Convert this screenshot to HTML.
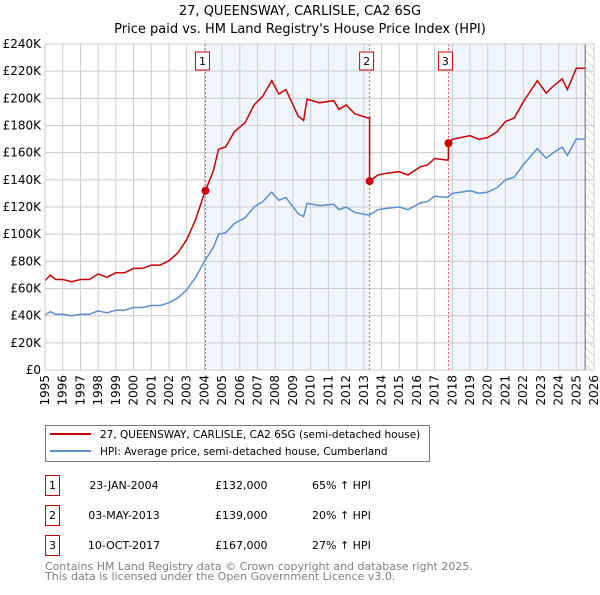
<!DOCTYPE html>
<html><head><meta charset="utf-8"><style>
body{margin:0;background:#fff;font-family:"Liberation Sans","DejaVu Sans",sans-serif;}
svg text{font-family:"DejaVu Sans","Liberation Sans",sans-serif;}
</style></head><body>
<svg id="c" width="600" height="590" xmlns="http://www.w3.org/2000/svg">
<defs><pattern id="hatch" width="6" height="6" patternUnits="userSpaceOnUse" patternTransform="rotate(-45)"><line x1="0" y1="0" x2="0" y2="6" stroke="#bbb" stroke-width="1"/></pattern></defs>
<text x="300" y="15" text-anchor="middle" font-size="13">27, QUEENSWAY, CARLISLE, CA2 6SG</text>
<text x="300" y="33" text-anchor="middle" font-size="13">Price paid vs. HM Land Registry's House Price Index (HPI)</text>
<g id="plot"></g>
<g>
<rect x="45.5" y="425.5" width="384" height="36" fill="#fff" stroke="#777"/>
<line x1="50" y1="434" x2="91" y2="434" stroke="#cc0000" stroke-width="2"/>
<text x="100" y="438" font-size="10.5">27, QUEENSWAY, CARLISLE, CA2 6SG (semi-detached house)</text>
<line x1="50" y1="451" x2="91" y2="451" stroke="#5b8fd0" stroke-width="2"/>
<text x="100" y="455" font-size="10.5">HPI: Average price, semi-detached house, Cumberland</text>
</g>
<g id="table" font-size="11"></g>
<text x="45" y="570" font-size="11" fill="#808080">Contains HM Land Registry data © Crown copyright and database right 2025.</text>
<text x="45" y="580" font-size="11" fill="#808080">This data is licensed under the Open Government Licence v3.0.</text>
</svg>
<script>
const hpiYears=[1995.0,1995.3,1995.6,1996.0,1996.5,1997.0,1997.5,1998.0,1998.5,1999.0,1999.5,2000.0,2000.5,2001.0,2001.5,2002.0,2002.5,2003.0,2003.5,2004.0,2004.5,2004.8,2005.2,2005.7,2006.3,2006.8,2007.3,2007.8,2008.2,2008.6,2009.3,2009.6,2009.8,2010.5,2011.3,2011.6,2012.0,2012.5,2013.3,2013.8,2014.3,2015.0,2015.5,2016.2,2016.6,2017.0,2017.7,2018.0,2018.5,2019.0,2019.5,2020.0,2020.5,2021.0,2021.5,2022.0,2022.8,2023.3,2023.7,2024.2,2024.5,2025.0,2025.5];
const hpiValues=[40.5,43,41,41,40,41,41,43.5,42,44,44,46,46,47.5,47.5,49.5,53,59,68,80,90,100,101,108,112,120,124,131,125,127,115,113,122.7,121,122,118,120,116,114,118,119,120,118,123,124,128,127,130,131,132,130,131,134,140,142,151,163,156,160,164,158,170,170];
const saleIds=["1","2","3"];
const saleYears=[2004.06,2013.33,2017.78];
const salePrices=[132,139,167];
const saleDates=["23-JAN-2004","03-MAY-2013","10-OCT-2017"];
const salePriceLabels=["£132,000","£139,000","£167,000"];
const salePct=["65% ↑ HPI","20% ↑ HPI","27% ↑ HPI"];
const yTicks=[0,20,40,60,80,100,120,140,160,180,200,220,240];
const yTickLabels=["£0","£20K","£40K","£60K","£80K","£100K","£120K","£140K","£160K","£180K","£200K","£220K","£240K"];
const xTicks=[1995,1996,1997,1998,1999,2000,2001,2002,2003,2004,2005,2006,2007,2008,2009,2010,2011,2012,2013,2014,2015,2016,2017,2018,2019,2020,2021,2022,2023,2024,2025,2026];
const dataEnd=2025.5;

const L=45,R=594,T=44,B=370;
const xS=y=>L+(y-1995)/(2026-1995)*(R-L);
const yS=v=>B-v/240*(B-T);
const NS="http://www.w3.org/2000/svg";
const plot=document.getElementById('plot');
function mk(tag,attrs,parent){const e=document.createElementNS(NS,tag);for(const k in attrs)e.setAttribute(k,attrs[k]);(parent||plot).appendChild(e);return e;}
function hpiAt(t){for(let i=1;i<hpiYears.length;i++){if(t<=hpiYears[i]){const f=(t-hpiYears[i-1])/(hpiYears[i]-hpiYears[i-1]);return hpiValues[i-1]+f*(hpiValues[i]-hpiValues[i-1]);}}return hpiValues[hpiValues.length-1];}

let bg=mk('rect',{x:xS(saleYears[0]),y:T,width:xS(saleYears[1])-xS(saleYears[0]),height:B-T,fill:'#f1f5fd'});


let bg2=mk('rect',{x:xS(saleYears[2]),y:T,width:xS(dataEnd)-xS(saleYears[2]),height:B-T,fill:'#f1f5fd'});


let hz=mk('rect',{x:xS(dataEnd),y:T,width:R-xS(dataEnd),height:B-T,fill:'url(#hatch)'});



yTicks.forEach((v,i)=>{
 const g=mk('line',{x1:L,x2:R,y1:yS(v),y2:yS(v),stroke:'#cccccc','stroke-width':1});
 
 
 const t=mk('text',{x:L-4,y:yS(v)+4,'text-anchor':'end','font-size':12});
 
 
 t.textContent=yTickLabels[i];
});
xTicks.forEach(y=>{
 const g=mk('line',{x1:xS(y),x2:xS(y),y1:T,y2:B,stroke:'#cccccc','stroke-width':1});
 
 
 const t=mk('text',{x:0,y:0,'text-anchor':'end','font-size':12,transform:`translate(${xS(y)+4},${B+5}) rotate(-90)`});
 
 
 t.textContent=y;
});
let dl=mk('line',{x1:xS(dataEnd),x2:xS(dataEnd),y1:T,y2:B,stroke:'#666','stroke-width':1});



saleYears.forEach((sy,i)=>{
 const v=mk('line',{x1:xS(sy),x2:xS(sy),y1:T,y2:B,stroke:'#ee5555','stroke-width':1,'stroke-dasharray':'2,2'});
 
 
 const b=mk('rect',{x:xS(sy)-10,y:52,width:14,height:18,fill:'#fff',stroke:'#cc0000'});
 
 
 const t=mk('text',{x:xS(sy)-3,y:65,'text-anchor':'middle','font-size':11});
 
 
 t.textContent=saleIds[i];
});

const hp=hpiYears.map((y,i)=>xS(y).toFixed(1)+','+yS(hpiValues[i]).toFixed(1)).join(' ');
const hl=mk('polyline',{points:hp,fill:'none',stroke:'#5b8fd0','stroke-width':1.5});



function ratioAt(t){let r=salePrices[0]/hpiAt(saleYears[0]);for(let i=0;i<saleYears.length;i++){if(t>=saleYears[i])r=salePrices[i]/hpiAt(saleYears[i]);}return r;}
let pts=[];
const ts=[...hpiYears,...saleYears].sort((a,b)=>a-b);
ts.forEach(t=>{
 const si=saleYears.indexOf(t);
 if(si>0){pts.push([t,hpiAt(t)*ratioAt(t-0.0001)]);}
 pts.push([t,hpiAt(t)*ratioAt(t)]);
});
const pl=mk('polyline',{points:pts.map(p=>xS(p[0]).toFixed(1)+','+yS(p[1]).toFixed(1)).join(' '),fill:'none',stroke:'#cc0000','stroke-width':1.5});


saleYears.forEach((sy,i)=>{
 const c=mk('circle',{cx:xS(sy),cy:yS(salePrices[i]),r:4,fill:'#cc0000'});
 
 
});
let ax=mk('rect',{x:L,y:T,width:R-L,height:B-T,fill:'none',stroke:'#cccccc'});



const tb=document.getElementById('table');
saleIds.forEach((id,i)=>{
 const y0=475+i*30;
 const b=mk('rect',{x:45.5,y:y0+0.5,width:14,height:20,fill:'#fff',stroke:'#cc0000'},tb);
 
 
 const t=mk('text',{x:52.5,y:y0+14,'text-anchor':'middle'},tb);
 
 
 t.textContent=id;
 const d=mk('text',{x:124,y:y0+14,'text-anchor':'middle'},tb);
 
 
 d.textContent=saleDates[i];
 const p=mk('text',{x:215,y:y0+14},tb);
 
 
 p.textContent=salePriceLabels[i];
 const q=mk('text',{x:312,y:y0+14},tb);
 
 
 q.textContent=salePct[i];
});
</script>
</body></html>
